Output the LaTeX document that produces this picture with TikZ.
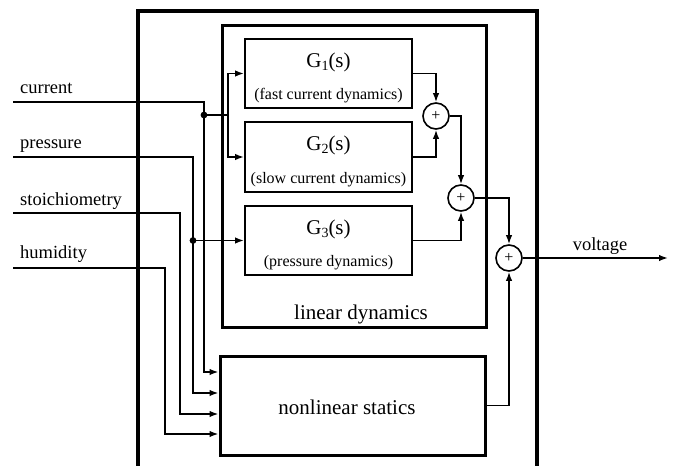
\documentclass[tikz,border=0pt]{standalone}
\usepackage{fontspec}
\setmainfont{Liberation Serif}
\usetikzlibrary{arrows.meta,positioning}
\begin{document}
\begin{tikzpicture}[x=1pt,y=-1pt,
        blk/.style={draw,line width=1.8pt,minimum width=167pt,minimum height=69pt,inner sep=0pt},
        bigblk/.style={draw,line width=3pt,inner sep=0pt},
        sumnode/.style={draw,circle,line width=1.6pt,minimum size=26pt,inner sep=0pt,font=\fontsize{16}{16}\selectfont},
        wire/.style={line width=1.7pt},
        conn/.style={wire,-{Latex[length=9pt,width=6.5pt]}},
        lbl/.style={anchor=base west,inner sep=0pt,font=\fontsize{18.5}{20}\selectfont},
        gtitle/.style={anchor=base,inner sep=0pt,font=\fontsize{21}{22}\selectfont},
        gsub/.style={anchor=base,inner sep=0pt,font=\fontsize{16}{18}\selectfont},
        bigtxt/.style={anchor=base,inner sep=0pt,font=\fontsize{21}{22}\selectfont}]
    \useasboundingbox (0,0) rectangle (673,466);
    \draw[line width=4.5pt] (138,467) -- (138,11) -- (537,11) -- (537,467);

    \node[bigblk,minimum width=264pt,minimum height=302pt] (lin) at (354,176) {};
    \node[bigblk,minimum width=265pt,minimum height=99pt] (nl) at (352.5,405.5) {};
    \node[bigtxt] (lintxt) at (361,319) {linear dynamics};
    \node[bigtxt] (nltxt) at (347,414) {nonlinear statics};

    \node[blk] (g1) at (328.5,73.5) {};
    \node[blk,minimum height=70pt] (g2) at (328.5,157) {};
    \node[blk] (g3) at (328.5,240.5) {};
    \node[gtitle] (g1t) at ([yshift=-29pt]g1.north) {G\raisebox{-0.35ex}{\fontsize{14}{14}\selectfont 1}(s)};
    \node[gtitle] (g2t) at ([yshift=-29pt]g2.north) {G\raisebox{-0.35ex}{\fontsize{14}{14}\selectfont 2}(s)};
    \node[gtitle] (g3t) at ([yshift=-29pt]g3.north) {G\raisebox{-0.35ex}{\fontsize{14}{14}\selectfont 3}(s)};
    \node[gsub] (g1s) at ([yshift=9pt]g1.south) {(fast current dynamics)};
    \node[gsub] (g2s) at ([yshift=9pt]g2.south) {(slow current dynamics)};
    \node[gsub] (g3s) at ([yshift=9pt]g3.south) {(pressure dynamics)};

    \node[sumnode] (s1) at (436,116) {+};
    \node[sumnode] (s2) at (461,198) {+};
    \node[sumnode] (s3) at (509,258) {+};

    % inputs
    \coordinate (icur) at (13,102);
    \coordinate (ipre) at (13,157);
    \coordinate (isto) at (13,213);
    \coordinate (ihum) at (13,268);
    \node[lbl] (lcur) at (20,93) {current};
    \node[lbl] (lpre) at (20,148) {pressure};
    \node[lbl] (lsto) at (20,205) {stoichiometry};
    \node[lbl] (lhum) at (20,258) {humidity};

    \coordinate (vcur) at (204,0);
    \coordinate (vpre) at (193,0);
    \coordinate (vsto) at (180,0);
    \coordinate (vhum) at (165,0);
    \coordinate (n1) at (218.5,372);
    \coordinate (n2) at (218.5,393);
    \coordinate (n3) at (218.5,414);
    \coordinate (n4) at (218.5,434);
    \draw[conn] (icur) -| (vcur |- n1) -- (n1);
    \draw[conn] (ipre) -| (vpre |- n2) -- (n2);
    \draw[conn] (isto) -| (vsto |- n3) -- (n3);
    \draw[conn] (ihum) -| (vhum |- n4) -- (n4);

    \coordinate (dcur) at (204,115);
    \coordinate (br) at (228,115);
    \coordinate (dpre) at (vpre |- g3.west);
    \fill (dcur) circle (3.4pt);
    \fill (dpre) circle (3.4pt);
    \draw[wire] (dcur) -- (br);
    \draw[conn] (br) |- (g1.west);
    \draw[conn] (br) |- (g2.west);
    \draw[conn] (dpre) -- (g3.west);

    % summing
    \draw[conn] (g1.east) -| (s1.north);
    \draw[conn] (g2.east) -| (s1.south);
    \draw[conn] (s1.east) -| (s2.north);
    \draw[conn] (g3.east) -| (s2.south);
    \draw[conn] (s2.east) -| (s3.north);
    \draw[conn] (nl.east) -| (s3.south);
    \coordinate (vout) at (668,258);
    \draw[conn] (s3.east) -- (vout);
    \node[lbl,anchor=base] (lvol) at (600,250) {voltage};
\end{tikzpicture}
\end{document}
